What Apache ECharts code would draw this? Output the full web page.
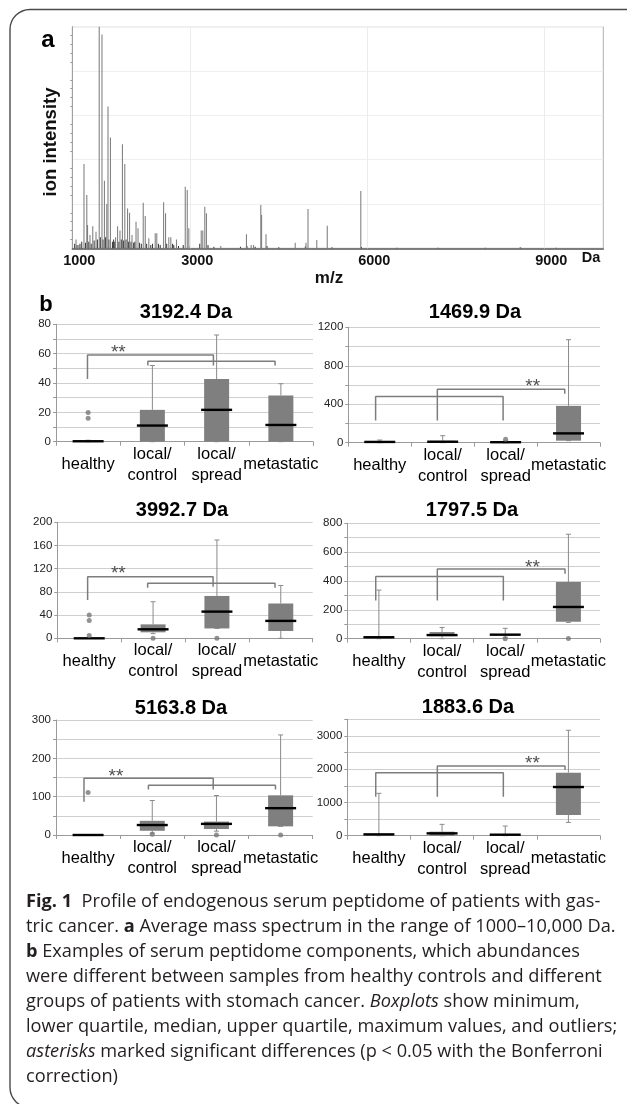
<!DOCTYPE html>
<html><head><meta charset="utf-8">
<script src="https://cdn.jsdelivr.net/npm/echarts@6/dist/echarts.min.js"></script>
<style>html,body{margin:0;padding:0;background:#fff}#c{width:627px;height:1104px}</style>
</head><body><div id="c"></div><script>
// ---------- Panel a: average mass spectrum ----------
const specMz  = [1063,1110,1198,1246,1259,1300,1347,1402,1456,1503,1544,1585,1605,1646,1734,1768,1808,1849,1890,1937,1971,2012,2080,2114,2202,2236,2297,2405,2432,2548,2581,2636,2670,2765,2914,2948,2975,3185,3212,3246,3273,3517,3951,4032,4073,4195,4209,4283,4778,4961,4995,5144,5321,5890,8589];
const specInt = [4,1.5,38,24,10.5,6,10,7.5,100,96.5,30.5,20,64,50,5,10,8,47,38,18,16,6,12,9,20.6,14.6,4.5,6.8,6.8,20.8,15.8,5,5,4,27.8,26.3,9,8,8,18.8,15.8,1,6.3,1.5,1.5,19.5,15,6.3,2.5,2.5,17.7,3.8,10.2,25.9,0.5];
const noiseMz  = [1040,1080,1130,1160,1225,1280,1320,1370,1425,1475,1520,1565,1620,1680,1700,1720,1790,1830,1870,1910,1950,1995,2040,2060,2140,2170,2260,2330,2360,2460,2490,2600,2700,2720,2800,2880,3000,3160,3300,3400,3850,3960,4100,4300,4500,4950,5400,5900,6500,7200,8000,8600,9200];
const noiseInt = [2,1.5,2,3,2.5,3,2,3.5,4,5,4,5,4,3,4,3,3,4,3.5,4,3,3,2.5,3,2.5,2,2,1.5,2,2,1.5,2,2,1.5,1,1.5,1,2,1.5,0.7,0.7,1,0.7,1,0.5,0.8,0.5,0.6,0.3,0.3,0.3,0.4,0.3];
const specTickValues = [1000, 3000, 6000, 9000];

// ---------- Panel b: box plots ----------
const groupNames = ['healthy', 'local/\ncontrol', 'local/\nspread', 'metastatic'];
const peptideNames = ['3192.4 Da', '1469.9 Da', '3992.7 Da', '1797.5 Da', '5163.8 Da', '1883.6 Da'];
const yMaxes = [80, 1200, 200, 800, 300, 3500];
const yLabelSteps = [20, 400, 40, 200, 100, 1000];
const yGridSteps = [10, 200, 40, 100, 50, 500];

// [min, Q1, median, Q3, max] for each group
const box3192 = [[0,0,0.3,0.8,1],[0,0,11,21.7,51.9],[0,0,21.7,42.7,72.7],[0,0,11.4,31.5,39.5]];
const box1469 = [[0,0,8,12,28],[0,0,10,20,73],[0,0,5,8,20],[21,21,97,383,1071]];
const box3992 = [[0,0,0,0.5,1],[8,10.3,15.5,24,63],[17,17,46,73,169.5],[0,12.6,30,60,91]];
const box1797 = [[0,0,10,15,337],[0,18,25,46,78],[10,22,28,30,72],[113,118,220,393,724]];
const box5163 = [[0,0,0,0.5,1],[5,11,26,37,90],[10,15.6,29,35,103],[22.6,22.6,70,103.5,261]];
const box1883 = [[0,0,40,50,1274],[0,0,70,120,341],[0,0,30,40,290],[400,622,1464,1896,3170]];

// outliers: [group index, value]
const out3192 = [[0,16],[0,19.9]];
const out1469 = [[2,35]];
const out3992 = [[0,40],[0,30.5],[0,5],[1,0],[2,0]];
const out1797 = [[2,0],[3,2]];
const out5163 = [[0,111],[1,2],[2,0],[3,0]];
const out1883 = [];

// significance brackets: polylines of [group position, value]
const brk3192 = [[[-0.01,42.7],[-0.01,59],[1.95,59],[1.95,51.9]], [[0.93,51.9],[0.93,54.9],[2.91,54.9],[2.91,51.9]]];
const brk1469 = [[[-0.066,230],[-0.066,480],[1.96,480],[1.96,230]], [[0.915,230],[0.915,557],[2.94,557],[2.94,508]]];
const brk3992 = [[[-0.025,66],[-0.025,106],[1.94,106],[1.94,89]], [[0.915,87],[0.915,95],[2.91,95],[2.91,87]]];
const brk1797 = [[[-0.05,264],[-0.05,432],[1.97,432],[1.97,264]], [[0.925,264],[0.925,483],[2.946,483],[2.946,451]]];
const brk5163 = [[[-0.064,87],[-0.064,148],[1.95,148],[1.95,119]], [[0.94,119],[0.94,130],[2.92,130],[2.92,119]]];
const brk1883 = [[[-0.05,1173],[-0.05,1896],[1.97,1896],[1.97,1173]], [[0.925,1173],[0.925,2096],[2.946,2096],[2.946,1976]]];
// asterisk positions [group position, value]
const star3192 = [0.47, 63];
const star1469 = [2.43, 620];
const star3992 = [0.456, 118];
const star1797 = [2.43, 522];
const star5163 = [0.435, 163];
const star1883 = [2.43, 2297];

const captionLines = [
  '{b|Fig. 1}  Profile of endogenous serum peptidome of patients with gas-',
  'tric cancer. {b|a} Average mass spectrum in the range of 1000–10,000 Da.',
  '{b|b} Examples of serum peptidome components, which abundances',
  'were different between samples from healthy controls and different',
  'groups of patients with stomach cancer. {i|Boxplots} show minimum,',
  'lower quartile, median, upper quartile, maximum values, and outliers;',
  '{i|asterisks} marked significant differences (p < 0.05 with the Bonferroni',
  'correction)'
];

// ---------- layout ----------
const allBoxes = [box3192, box1469, box3992, box1797, box5163, box1883];
const allOut = [out3192, out1469, out3992, out1797, out5163, out1883];
const allBrk = [brk3192, brk1469, brk3992, brk1797, brk5163, brk1883];
const allStar = [star3192, star1469, star3992, star1797, star5163, star1883];
const boxGrids = [
  {left:56, top:324.3, width:257, height:117.4},
  {left:348.3, top:327.3, width:251.7, height:115.4},
  {left:57.3, top:522.3, width:255.4, height:116},
  {left:347.3, top:523.3, width:252.7, height:115.4},
  {left:56, top:720, width:256.7, height:115},
  {left:347.3, top:719.3, width:252.7, height:116.4}
];
const titlePos = [[186,312],[475,312],[182,510],[472,510],[181,708],[468,707]];
const SANS = '"Liberation Sans", Arial, sans-serif';
const CAP = '"Open Sans", sans-serif';
const CAPSIZE = 18.2;

const chart = echarts.init(document.getElementById('c'), null, {renderer:'canvas'});

const grids = [{left:72.3, top:26.7, width:531, height:221.6, show:true, borderColor:'#b0b0b0', borderWidth:1, backgroundColor:'transparent'}].concat(boxGrids);
const xAxes = [{
  type:'value', gridIndex:0, min:1000, max:10000, interval:1000,
  axisLine:{show:true, onZero:false, lineStyle:{color:'#555', width:1.5}},
  axisTick:{show:false}, splitLine:{show:false},
  axisLabel:{show:true, margin:5, fontFamily:SANS, fontWeight:'bold', fontSize:14.5, color:'#111', padding:[0,0,0,14],
    formatter: v => specTickValues.indexOf(v) >= 0 ? String(v) : ''}
}];
const yAxes = [{
  type:'value', gridIndex:0, min:0, max:100, interval:20,
  axisLine:{show:true, onZero:false, lineStyle:{color:'#a0a0a0'}},
  axisTick:{show:false}, axisLabel:{show:false},
  minorTick:{show:true, splitNumber:5, length:2, lineStyle:{color:'#999'}},
  splitLine:{show:true, lineStyle:{color:'#efefef'}}
}];
const series = [
  {type:'bar', xAxisIndex:0, yAxisIndex:0, barWidth:1, z:2, silent:true,
   itemStyle:{color:'#333'}, data: noiseMz.map((m,i)=>[m, noiseInt[i]]),
   markLine:{silent:true, symbol:'none', label:{show:false}, lineStyle:{color:'#ececec', type:'solid', width:1},
     data: specTickValues.filter(v=>v>1000).map(v=>({xAxis:v}))}},
  {type:'bar', xAxisIndex:0, yAxisIndex:0, barWidth:1, z:3, silent:true, barGap:'-100%',
   itemStyle:{color:'#777'}, data: specMz.map((m,i)=>[m, specInt[i]])}
];

function boxRender(params, api) {
  const i = api.value(0);
  const pMin = api.coord([i, api.value(1)]);
  const pQ1 = api.coord([i, api.value(2)]);
  const pMed = api.coord([i, api.value(3)]);
  const pQ3 = api.coord([i, api.value(4)]);
  const pMax = api.coord([i, api.value(5)]);
  const x = pMin[0];
  const bw = 25, mw = 31, cw = 5;
  const wStyle = {stroke:'#8a8a8a', lineWidth:1};
  return {type:'group', children:[
    {type:'line', shape:{x1:x, y1:pQ3[1], x2:x, y2:pMax[1]}, style:wStyle},
    {type:'line', shape:{x1:x-cw/2, y1:pMax[1], x2:x+cw/2, y2:pMax[1]}, style:wStyle},
    {type:'line', shape:{x1:x, y1:pMin[1], x2:x, y2:pQ1[1]}, style:wStyle},
    {type:'line', shape:{x1:x-cw/2, y1:pMin[1], x2:x+cw/2, y2:pMin[1]}, style:wStyle},
    {type:'rect', shape:{x:x-bw/2, y:pQ3[1], width:bw, height:Math.max(0.5, pQ1[1]-pQ3[1])}, style:{fill:'#7f7f7f'}},
    {type:'line', shape:{x1:x-mw/2, y1:pMed[1], x2:x+mw/2, y2:pMed[1]}, style:{stroke:'#000', lineWidth:2.4}}
  ]};
}

const graphics = [
  {type:'rect', shape:{x:10, y:9.5, width:700, height:1098, r:20}, style:{fill:'none', stroke:'#4a4a4a', lineWidth:1.4}, z:-1},
  {type:'text', x:48, y:40, style:{text:'a', font:'bold 24px ' + SANS, fill:'#000', align:'center', verticalAlign:'middle'}},
  {type:'text', x:46, y:305, style:{text:'b', font:'bold 22px ' + SANS, fill:'#000', align:'center', verticalAlign:'middle'}},
  {type:'text', x:51, y:142, rotation:Math.PI/2, style:{text:'ion intensity', font:'bold 18.5px ' + SANS, fill:'#111', align:'center', verticalAlign:'middle'}},
  {type:'text', x:329, y:278, style:{text:'m/z', font:'bold 17px ' + SANS, fill:'#111', align:'center', verticalAlign:'middle'}},
  {type:'text', x:591, y:258, style:{text:'Da', font:'bold 14.5px ' + SANS, fill:'#111', align:'center', verticalAlign:'middle'}}
];

for (let k = 0; k < 6; k++) {
  const g = k + 1;
  const lblStep = yLabelSteps[k];
  xAxes.push({
    type:'category', gridIndex:g, data:groupNames, boundaryGap:true,
    axisLine:{show:true, onZero:false, lineStyle:{color:'#9a9a9a'}},
    axisTick:{show:true, length:4, lineStyle:{color:'#9a9a9a'}},
    axisLabel:{interval:0, margin:23, verticalAlign:'middle', fontFamily:SANS, fontSize:16.5, lineHeight:21, color:'#000'}
  });
  xAxes.push({type:'value', gridIndex:g, min:-0.5, max:3.5, show:false});
  yAxes.push({
    type:'value', gridIndex:g, min:0, max:yMaxes[k], interval:yGridSteps[k],
    axisLine:{show:true, onZero:false, lineStyle:{color:'#9a9a9a'}},
    axisTick:{show:true, length:3, lineStyle:{color:'#9a9a9a'}},
    axisLabel:{margin:5, fontFamily:SANS, fontSize:11.5, color:'#222',
      formatter: v => (Math.round(v) % lblStep === 0) ? String(v) : ''},
    splitLine:{show:true, lineStyle:{color:'#cfcfcf'}}
  });
  const catX = 1 + 2*k, valX = 2 + 2*k;
  series.push({type:'custom', xAxisIndex:catX, yAxisIndex:g, renderItem:boxRender, silent:true, z:3,
    encode:{x:0, y:[1,2,3,4,5]},
    data: allBoxes[k].map((b,i)=>[i].concat(b))});
  series.push({type:'scatter', xAxisIndex:catX, yAxisIndex:g, symbol:'circle', symbolSize:5, silent:true, z:4,
    itemStyle:{color:'#777'}, data: allOut[k]});
  allBrk[k].forEach(br => series.push({type:'line', xAxisIndex:valX, yAxisIndex:g, data:br, symbol:'none', silent:true, z:5,
    lineStyle:{color:'#7d7d7d', width:1.5}}));
  series.push({type:'scatter', xAxisIndex:valX, yAxisIndex:g, symbolSize:0, silent:true, z:6, data:[allStar[k]],
    label:{show:true, position:'inside', formatter:'**', fontFamily:SANS, fontSize:19, color:'#222', offset:[0,4]}});
  graphics.push({type:'text', x:titlePos[k][0], y:titlePos[k][1],
    style:{text:peptideNames[k], font:'bold 20px ' + SANS, fill:'#000', align:'center', verticalAlign:'middle'}});
}

captionLines.forEach((ln, i) => {
  graphics.push({type:'text', x:26, y:901.7 + 25*i, style:{
    text: ln, fontFamily:CAP, fontSize:CAPSIZE, fill:'#231f20', align:'left', verticalAlign:'middle',
    rich:{
      b:{fontFamily:CAP, fontWeight:'bold', fontSize:CAPSIZE, fill:'#231f20'},
      i:{fontFamily:CAP, fontStyle:'italic', fontSize:CAPSIZE, fill:'#231f20'}
    }}});
});

chart.setOption({
  animation:false,
  backgroundColor:'#fff',
  grid: grids,
  xAxis: xAxes,
  yAxis: yAxes,
  series: series,
  graphic: graphics
});
</script></body></html>
